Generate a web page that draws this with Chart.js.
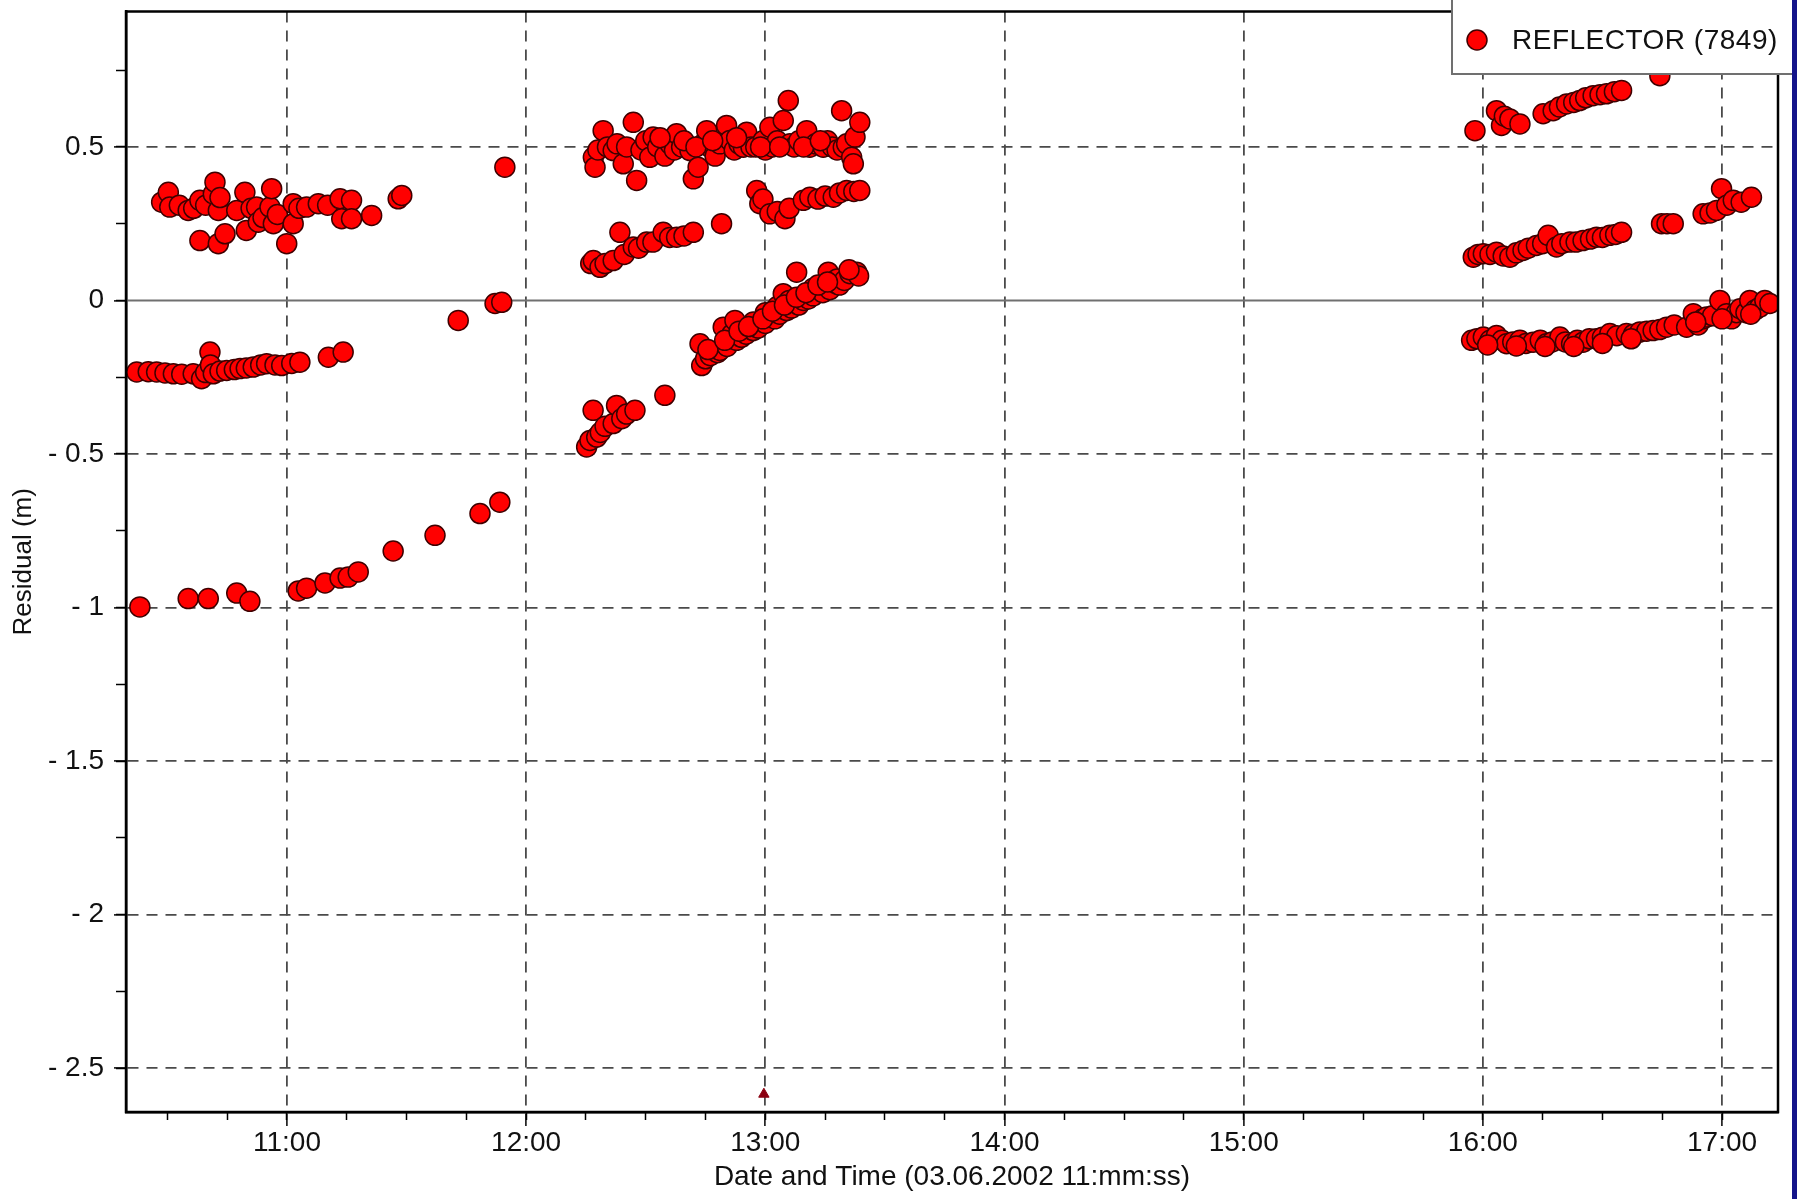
<!DOCTYPE html>
<html>
<head>
<meta charset="utf-8">
<script src="https://cdn.jsdelivr.net/npm/chart.js@4.4.1/dist/chart.umd.min.js"></script>
<style>
html,body{margin:0;padding:0;background:#fff;}
#wrap{width:1797px;height:1199px;position:relative;overflow:hidden;}
</style>
</head>
<body>
<div id="wrap"><canvas id="c" width="1797" height="1199"></canvas></div>
<script>
// ---------- texts ----------
const seriesLabel = 'REFLECTOR (7849)';
const xAxisTitle = 'Date and Time (03.06.2002 11:mm:ss)';
const yAxisTitle = 'Residual (m)';

// ---------- axes (time in decimal hours, residual in metres) ----------
const xRange = [10.327, 17.234];
const yRange = [-2.643, 0.941];
const xTickValues = [11, 12, 13, 14, 15, 16, 17];
const xTickLabels = ['11:00', '12:00', '13:00', '14:00', '15:00', '16:00', '17:00'];
const yTickValues = [-2.5, -2, -1.5, -1, -0.5, 0, 0.5];
const yTickLabels = ['- 2.5', '- 2', '- 1.5', '- 1', '- 0.5', '0', '0.5'];
const xMinorStep = 0.25;
const yMinorStep = 0.25;

// ---------- data: [time (h), residual (m)] ----------
const upperLeftCluster = [
  [10.476,0.32],[10.504,0.352],[10.51,0.304],[10.55,0.31],[10.587,0.293],[10.61,0.30],[10.636,0.326],[10.636,0.195],
  [10.66,0.31],[10.692,0.347],[10.699,0.385],[10.713,0.293],[10.713,0.185],[10.72,0.335],[10.741,0.217],[10.79,0.293],
  [10.824,0.352],[10.83,0.228],[10.85,0.30],[10.873,0.304],[10.88,0.255],[10.9,0.27],[10.929,0.304],[10.936,0.364],
  [10.943,0.25],[10.96,0.28],[10.999,0.185],[11.026,0.315],[11.026,0.25],[11.05,0.30],[11.082,0.304],[11.131,0.315],
  [11.17,0.31],[11.222,0.331],[11.229,0.266],[11.27,0.326],[11.27,0.266],[11.354,0.277],[11.465,0.331],[11.48,0.342]
];
const lowerLeftBand = [
  [10.372,-0.233],[10.42,-0.232],[10.455,-0.233],[10.49,-0.236],[10.525,-0.239],[10.56,-0.24],[10.608,-0.239],[10.643,-0.255],
  [10.66,-0.235],[10.678,-0.168],[10.68,-0.21],[10.692,-0.239],[10.72,-0.23],[10.748,-0.228],[10.78,-0.225],[10.804,-0.222],
  [10.83,-0.22],[10.859,-0.217],[10.89,-0.21],[10.915,-0.206],[10.95,-0.21],[10.978,-0.212],[11.02,-0.205],[11.054,-0.201],
  [11.173,-0.185],[11.235,-0.168]
];
const lowerLeftTrend = [
  [10.385,-0.998],[10.587,-0.971],[10.671,-0.971],[10.79,-0.953],[10.845,-0.98],[11.047,-0.946],[11.082,-0.937],[11.159,-0.92],
  [11.222,-0.904],[11.256,-0.901],[11.298,-0.884],[11.444,-0.816],[11.619,-0.765],[11.807,-0.694],[11.89,-0.657]
];
const isolatedNoon = [
  [11.716,-0.065],[11.87,-0.01],[11.898,-0.006],[11.911,0.434]
];
const midUpperBand = [
  [12.281,0.466],[12.288,0.434],[12.30,0.49],[12.322,0.553],[12.34,0.50],[12.364,0.488],[12.38,0.51],[12.406,0.445],
  [12.42,0.50],[12.448,0.58],[12.462,0.391],[12.48,0.49],[12.50,0.52],[12.517,0.466],[12.531,0.532],[12.55,0.50],
  [12.58,0.47],[12.601,0.51],[12.62,0.49],[12.629,0.543],[12.65,0.50],[12.685,0.488],[12.699,0.396],[12.719,0.434],
  [12.74,0.51],[12.755,0.553],[12.768,0.499],[12.79,0.47],[12.81,0.51],[12.838,0.57],[12.852,0.521],[12.87,0.49],
  [12.89,0.51],[12.908,0.499],[12.922,0.548],[12.94,0.50],[12.96,0.50],[12.991,0.521],[13.00,0.49],[13.019,0.564],
  [13.03,0.50],[13.05,0.52],[13.075,0.586],[13.096,0.651],[13.103,0.51],[13.12,0.50],[13.14,0.52],[13.173,0.553],
  [13.186,0.499],[13.21,0.51],[13.242,0.499],[13.26,0.52],[13.28,0.50],[13.30,0.49],[13.319,0.618],[13.326,0.499],
  [13.34,0.51],[13.361,0.466],[13.368,0.445],[13.375,0.532],[13.395,0.58],
  [12.56,0.53],[12.66,0.52],[12.71,0.50],[12.78,0.52],[12.88,0.53],[12.98,0.50],[13.06,0.50],[13.16,0.50],[13.23,0.52]
];
const midLowerBand = [
  [12.27,0.12],[12.281,0.13],[12.309,0.108],[12.33,0.12],[12.364,0.13],[12.392,0.222],[12.41,0.15],[12.448,0.174],
  [12.47,0.17],[12.504,0.19],[12.53,0.19],[12.573,0.222],[12.60,0.205],[12.629,0.206],[12.66,0.21],[12.699,0.222],[12.817,0.25]
];
const midRightBand = [
  [12.964,0.358],[12.977,0.315],[12.99,0.33],[13.019,0.282],[13.05,0.29],[13.082,0.266],[13.10,0.30],[13.159,0.326],
  [13.186,0.336],[13.22,0.33],[13.25,0.34],[13.284,0.336],[13.31,0.35],[13.34,0.358],[13.37,0.355],[13.395,0.358]
];
const midRisingTrend = [
  [12.253,-0.477],[12.267,-0.456],[12.28,-0.358],[12.295,-0.445],[12.31,-0.43],[12.33,-0.41],[12.364,-0.401],[12.378,-0.342],
  [12.40,-0.385],[12.42,-0.37],[12.455,-0.358],[12.58,-0.309],
  [12.727,-0.141],[12.734,-0.212],[12.75,-0.19],[12.77,-0.18],[12.80,-0.17],[12.81,-0.163],[12.824,-0.087],[12.84,-0.15],
  [12.86,-0.11],[12.873,-0.065],[12.88,-0.13],[12.90,-0.12],[12.92,-0.11],[12.949,-0.098],[12.95,-0.07],[12.97,-0.09],
  [13.00,-0.075],[13.00,-0.04],[13.019,-0.054],[13.04,-0.06],[13.05,-0.02],[13.06,-0.045],[13.075,0.022],[13.089,-0.033],
  [13.10,0.0],[13.11,-0.025],[13.131,0.092],[13.14,-0.015],[13.159,0.0],[13.18,0.005],[13.20,0.015],[13.20,0.04],
  [13.228,0.043],[13.24,0.025],[13.263,0.092],[13.27,0.035],[13.298,0.054],[13.30,0.07],[13.31,0.05],[13.33,0.065],
  [13.354,0.087],[13.382,0.092],[13.39,0.08],
  [12.76,-0.16],[12.83,-0.13],[12.89,-0.10],[12.93,-0.085],[12.99,-0.06],[13.03,-0.035],[13.08,-0.015],[13.13,0.01],
  [13.17,0.025],[13.22,0.05],[13.26,0.06],[13.35,0.1]
];
const rightUpperBand = [
  [15.967,0.553],[16.057,0.618],[16.078,0.57],[16.09,0.60],[16.113,0.591],[16.155,0.575],[16.252,0.608],[16.294,0.618],
  [16.32,0.63],[16.35,0.64],[16.38,0.645],[16.405,0.651],[16.43,0.66],[16.461,0.667],[16.49,0.67],[16.517,0.673],
  [16.55,0.68],[16.58,0.684],[16.74,0.732]
];
const rightMiddleBand = [
  [15.96,0.141],[15.98,0.15],[16.002,0.152],[16.03,0.15],[16.057,0.157],[16.085,0.145],[16.113,0.141],[16.14,0.155],
  [16.168,0.163],[16.19,0.17],[16.224,0.179],[16.25,0.185],[16.273,0.212],[16.308,0.174],[16.33,0.185],[16.364,0.19],
  [16.39,0.19],[16.419,0.195],[16.45,0.2],[16.475,0.206],[16.50,0.205],[16.531,0.212],[16.555,0.215],[16.58,0.222],
  [16.747,0.25],[16.77,0.25],[16.796,0.25],[16.921,0.282],[16.95,0.285],[16.977,0.293],[16.998,0.364],[17.02,0.31],
  [17.047,0.326],[17.08,0.32],[17.123,0.336]
];
const rightLowerBand = [
  [15.953,-0.13],[15.975,-0.125],[16.002,-0.119],[16.03,-0.13],[16.057,-0.114],[16.08,-0.13],[16.099,-0.141],[16.125,-0.135],
  [16.155,-0.13],[16.18,-0.14],[16.21,-0.136],[16.24,-0.13],[16.266,-0.141],[16.29,-0.135],[16.322,-0.119],[16.345,-0.135],
  [16.371,-0.141],[16.395,-0.13],[16.419,-0.136],[16.445,-0.125],[16.475,-0.125],[16.5,-0.12],[16.531,-0.108],[16.56,-0.115],
  [16.6,-0.108],[16.63,-0.11],[16.656,-0.103],[16.685,-0.1],[16.712,-0.098],[16.74,-0.095],[16.768,-0.087],[16.80,-0.08],
  [16.852,-0.087],[16.88,-0.043],[16.9,-0.08],[16.92,-0.06],[16.935,-0.054],[16.96,-0.05],[16.991,0.0],[17.019,-0.043],
  [17.04,-0.06],[17.06,-0.04],[17.075,-0.027],[17.1,-0.04],[17.116,0.0],[17.14,-0.03],[17.158,-0.022],[17.179,0.0],[17.2,-0.01],
  [16.02,-0.145],[16.14,-0.148],[16.26,-0.15],[16.38,-0.15],[16.5,-0.14],[16.62,-0.125],[16.89,-0.07],[17.0,-0.06],[17.12,-0.045]
];
const outlierMark = [[12.994,-2.585]];

// ---------- build ----------
const toPts = arr => arr.map(([t, r]) => ({x: t, y: r}));
const reflectorPoints = toPts([].concat(
  upperLeftCluster, lowerLeftBand, lowerLeftTrend, isolatedNoon,
  midUpperBand, midLowerBand, midRightBand, midRisingTrend,
  rightUpperBand, rightMiddleBand, rightLowerBand
));

const FONT = '"Liberation Sans", Arial, sans-serif';
const DOT_FILL = '#ff0000';
const DOT_EDGE = '#3f0000';
const GRID_COLOR = '#4a4a4a';
const GRID_DASH = [11, 8];

const frameAndZero = {
  id: 'frameAndZero',
  beforeDatasetsDraw(chart) {
    const {ctx, chartArea: a, scales} = chart;
    const y0 = scales.y.getPixelForValue(0);
    ctx.save();
    ctx.strokeStyle = '#707070';
    ctx.lineWidth = 2;
    ctx.beginPath();
    ctx.moveTo(a.left, y0); ctx.lineTo(a.right, y0);
    ctx.stroke();
    ctx.restore();
  },
  afterDraw(chart) {
    const {ctx, chartArea: a} = chart;
    ctx.save();
    ctx.strokeStyle = '#000';
    ctx.lineWidth = 2.5;
    ctx.strokeRect(a.left, a.top, a.right - a.left, a.bottom - a.top);
    // legend box
    const bx = 1452, by = -2, bw = 341, bh = 76;
    ctx.fillStyle = '#fff';
    ctx.fillRect(bx, by, bw, bh);
    ctx.strokeStyle = '#707070';
    ctx.lineWidth = 2;
    ctx.strokeRect(bx, by, bw, bh);
    ctx.beginPath();
    ctx.arc(1477, 40, 10, 0, Math.PI * 2);
    ctx.fillStyle = DOT_FILL; ctx.fill();
    ctx.strokeStyle = DOT_EDGE; ctx.lineWidth = 1.5; ctx.stroke();
    ctx.fillStyle = '#111';
    ctx.font = '28px ' + FONT;
    ctx.textBaseline = 'middle';
    ctx.textAlign = 'left';
    try { ctx.letterSpacing = '0.5px'; } catch (e) {}
    ctx.fillText(seriesLabel, 1512, 41);
    ctx.restore();
    // right window edge
    ctx.save();
    ctx.fillStyle = '#14148a';
    ctx.fillRect(1792, 0, 5, 1199);
    ctx.restore();
  }
};

const minorTicks = (lo, hi, step) => {
  const out = [];
  const start = Math.ceil(lo / step) * step;
  for (let v = start; v <= hi + 1e-9; v += step) out.push({value: +v.toFixed(4)});
  return out;
};

new Chart(document.getElementById('c'), {
  type: 'scatter',
  data: {
    datasets: [
      {
        label: seriesLabel,
        data: reflectorPoints,
        pointRadius: 10,
        pointHoverRadius: 10,
        pointBackgroundColor: DOT_FILL,
        pointBorderColor: DOT_EDGE,
        pointBorderWidth: 1.5,
        xAxisID: 'x', yAxisID: 'y'
      },
      {
        label: 'mark',
        data: toPts(outlierMark),
        pointStyle: 'triangle',
        pointRadius: 6,
        pointBackgroundColor: '#8b0010',
        pointBorderColor: '#8b0010',
        xAxisID: 'x', yAxisID: 'y'
      }
    ]
  },
  options: {
    responsive: false,
    animation: false,
    devicePixelRatio: 1,
    layout: {padding: {top: 11, right: 19, left: 0, bottom: 0}},
    plugins: {legend: {display: false}, tooltip: {enabled: false}},
    scales: {
      x: {
        type: 'linear', position: 'bottom', weight: 1,
        min: xRange[0], max: xRange[1],
        afterBuildTicks: s => { s.ticks = xTickValues.map(v => ({value: v})); },
        ticks: {
          callback: v => { const i = xTickValues.indexOf(v); return i >= 0 ? xTickLabels[i] : ''; },
          font: {family: FONT, size: 28}, color: '#111', padding: 0, maxRotation: 0, autoSkip: false
        },
        grid: {color: GRID_COLOR, lineWidth: 1.8, tickLength: 14, tickColor: '#000', tickWidth: 1.5, tickBorderDash: []},
        border: {display: true, color: '#000', width: 2.5, dash: GRID_DASH},
        title: {display: true, text: xAxisTitle, font: {family: FONT, size: 28}, color: '#111', padding: {top: 0, bottom: 5}},
        afterFit: s => { s.height = 87; s.paddingLeft = 0; s.paddingRight = 0; }
      },
      xMinor: {
        type: 'linear', position: 'bottom', weight: 0,
        min: xRange[0], max: xRange[1],
        afterBuildTicks: s => { s.ticks = minorTicks(xRange[0], xRange[1], xMinorStep); },
        ticks: {display: false},
        grid: {drawOnChartArea: false, tickLength: 8, tickColor: '#000', tickWidth: 1.5},
        border: {display: false},
        afterFit: s => { s.height = 0; s.paddingLeft = 0; s.paddingRight = 0; }
      },
      y: {
        type: 'linear', position: 'left', weight: 1,
        min: yRange[0], max: yRange[1],
        afterBuildTicks: s => { s.ticks = yTickValues.map(v => ({value: v})); },
        ticks: {
          callback: v => { const i = yTickValues.indexOf(v); return i >= 0 ? yTickLabels[i] : ''; },
          font: {family: FONT, size: 28}, color: '#111', padding: 10, autoSkip: false
        },
        grid: {
          color: c => (c.tick && c.tick.value === 0) ? 'rgba(0,0,0,0)' : GRID_COLOR,
          lineWidth: 1.8, tickLength: 12, tickColor: '#000', tickWidth: 1.5, tickBorderDash: []
        },
        border: {display: true, color: '#000', width: 2.5, dash: GRID_DASH},
        title: {display: true, text: yAxisTitle, font: {family: FONT, size: 26}, color: '#111', padding: {top: 8, bottom: 0}},
        afterFit: s => { s.width = 126; s.paddingTop = 0; s.paddingBottom = 0; }
      },
      yMinor: {
        type: 'linear', position: 'left', weight: 0,
        min: yRange[0], max: yRange[1],
        afterBuildTicks: s => { s.ticks = minorTicks(yRange[0], yRange[1], yMinorStep); },
        ticks: {display: false},
        grid: {drawOnChartArea: false, tickLength: 10, tickColor: '#000', tickWidth: 1.5},
        border: {display: false},
        afterFit: s => { s.width = 0; s.paddingTop = 0; s.paddingBottom = 0; }
      }
    }
  },
  plugins: [frameAndZero]
});
</script>
</body>
</html>
